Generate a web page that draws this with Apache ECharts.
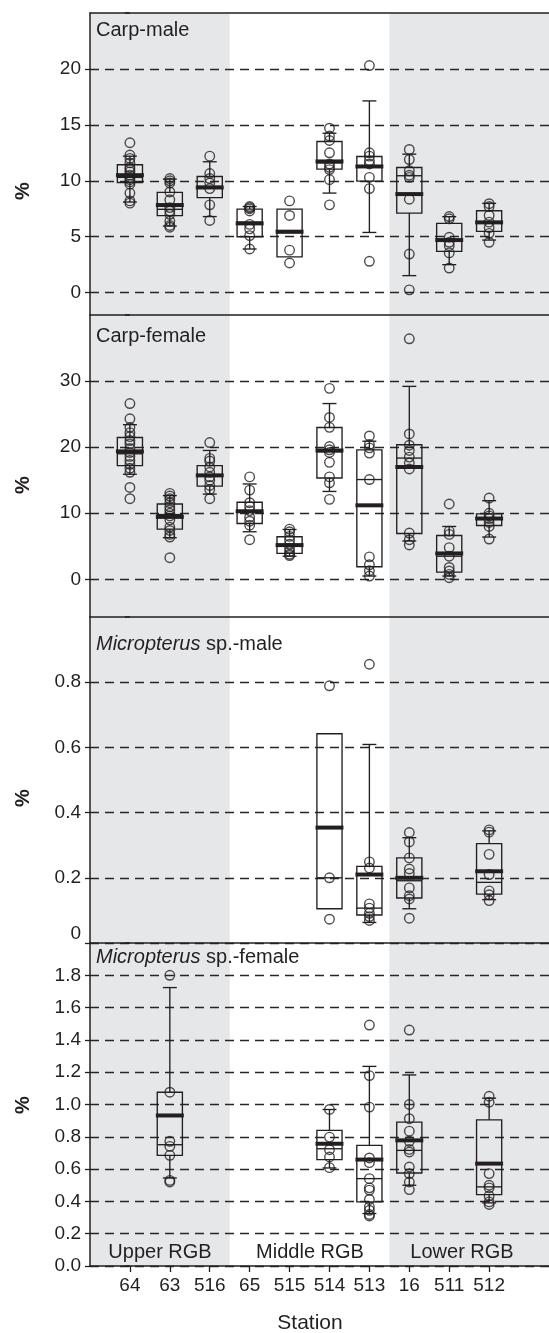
<!DOCTYPE html>
<html><head><meta charset="utf-8">
<script src="https://cdn.jsdelivr.net/npm/echarts@6/dist/echarts.min.js"></script>
<style>html,body{margin:0;padding:0;background:#fff}#c{width:549px;height:1333px}</style>
</head><body><div id="c"></div>
<script>
// ---------------- data ----------------
const stations = ['64', '63', '516', '65', '515', '514', '513', '16', '511', '512'];
const regionNames = ['Upper RGB', 'Middle RGB', 'Lower RGB'];
const shadedRanges = [[-1, 2.5], [6.5, 10.5]]; // shaded station ranges (Upper, Lower)

// box rows: [low whisker, Q1, median, Q3, high whisker, mean]; null = not shown
const carpMaleBox = [
  [8.1, 9.85, 10.3, 11.43, 12.2, 10.5],
  [5.95, 6.88, 7.45, 8.96, 10.15, 7.83],
  [6.8, 8.5, 9.5, 10.38, 11.7, 9.4],
  [3.9, 5.0, 6.3, 7.47, 7.7, 6.19],
  [null, 3.2, 5.35, 7.47, null, 5.45],
  [8.9, 11.04, 11.6, 13.51, 14.25, 11.73],
  [5.38, 9.97, 11.2, 12.17, 17.14, 11.28],
  [1.52, 7.11, 10.45, 11.19, 12.38, 8.81],
  [2.5, 3.69, 4.6, 6.19, 6.79, 4.7],
  [4.7, 5.48, 6.2, 7.32, 7.98, 6.28]
];
const carpMalePts = [
  [13.4, 12.3, 12.0, 11.6, 11.2, 11.0, 10.8, 10.5, 10.3, 10.1, 9.9, 9.7, 8.9, 8.2, 8.0],
  [10.2, 10.0, 9.8, 9.0, 8.3, 7.6, 7.3, 7.0, 6.4, 6.0, 5.85],
  [12.2, 10.65, 10.2, 9.8, 9.3, 7.85, 6.45],
  [7.7, 7.6, 7.5, 7.3, 6.1, 5.7, 5.1, 3.9],
  [8.2, 6.9, 3.8, 2.65],
  [14.7, 14.0, 13.6, 12.5, 11.5, 11.2, 11.0, 10.1, 7.85],
  [20.3, 12.5, 12.2, 11.8, 11.5, 10.3, 9.3, 2.8],
  [12.8, 11.9, 10.9, 10.5, 10.3, 8.35, 3.45, 0.25],
  [6.8, 6.6, 4.95, 4.5, 4.2, 3.55, 2.2],
  [7.95, 7.7, 6.9, 6.3, 5.8, 5.3, 4.5]
];

const carpFemaleBox = [
  [15.9, 17.2, 19.0, 21.46, 23.4, 19.36],
  [6.3, 7.6, 9.8, 11.4, 12.67, 9.45],
  [12.9, 14.1, 15.8, 17.2, 19.5, 15.73],
  [7.2, 8.45, 10.2, 11.66, 14.43, 10.3],
  [3.5, 3.92, 5.0, 6.44, 7.54, 5.18],
  [13.3, 15.34, 19.3, 22.97, 26.6, 19.5],
  [0.5, 1.9, 15.1, 19.6, 20.9, 11.2],
  [5.8, 6.94, 18.35, 20.36, 29.2, 17.0],
  [0.5, 1.1, 3.5, 6.64, 8.0, 3.92],
  [6.4, 8.14, 9.1, 9.9, 11.9, 9.2]
];
const carpFemalePts = [
  [26.6, 24.3, 23.0, 22.2, 21.6, 21.0, 20.5, 19.8, 19.2, 18.6, 18.0, 17.4, 16.8, 16.2, 13.9, 12.2],
  [13.0, 12.6, 12.2, 11.6, 11.0, 10.5, 10.0, 9.6, 9.0, 7.9, 7.4, 6.8, 6.4, 3.27],
  [20.7, 18.3, 17.9, 17.0, 16.2, 15.5, 15.0, 14.2, 13.6, 12.2],
  [15.5, 13.5, 11.6, 11.0, 10.4, 9.4, 8.8, 8.2, 6.0],
  [7.6, 7.2, 6.5, 5.9, 5.3, 4.7, 4.2, 3.8, 3.6],
  [28.9, 24.5, 23.0, 20.1, 19.6, 19.2, 17.7, 15.5, 14.6, 12.1],
  [21.7, 20.4, 19.9, 19.1, 15.1, 3.4, 2.2, 1.3, 0.5],
  [36.4, 22.0, 20.3, 19.5, 18.5, 17.6, 16.7, 7.0, 6.0, 5.2],
  [11.4, 7.3, 6.8, 4.8, 3.5, 1.8, 1.25, 0.75, 0.25],
  [12.3, 10.0, 9.6, 9.2, 8.6, 8.0, 6.1]
];

const micMaleBox = [
  null, null, null, null, null,
  [null, 0.105, 0.2, 0.642, null, 0.354],
  [0.063, 0.086, 0.107, 0.235, 0.609, 0.21],
  [0.105, 0.138, 0.191, 0.261, 0.323, 0.2],
  null,
  [0.133, 0.15, 0.186, 0.305, 0.344, 0.22]
];
const micMalePts = [
  [], [], [], [], [],
  [0.789, 0.2, 0.073],
  [0.855, 0.249, 0.23, 0.12, 0.107, 0.091, 0.081, 0.069],
  [0.339, 0.31, 0.261, 0.227, 0.213, 0.169, 0.145, 0.135, 0.076],
  [],
  [0.347, 0.34, 0.272, 0.21, 0.16, 0.148, 0.13]
];

const micFemaleBox = [
  null,
  [0.545, 0.685, 0.751, 1.076, 1.724, 0.932],
  null, null, null,
  [0.607, 0.659, 0.726, 0.84, 0.969, 0.757],
  [0.325, 0.397, 0.541, 0.747, 1.236, 0.659],
  [0.5, 0.576, 0.716, 0.891, 1.183, 0.778],
  null,
  [0.391, 0.442, 0.49, 0.905, 1.039, 0.634]
];
const micFemalePts = [
  [],
  [1.80, 1.076, 0.772, 0.741, 0.685, 0.53, 0.52],
  [], [], [],
  [0.969, 0.798, 0.72, 0.675, 0.609],
  [1.492, 1.179, 0.984, 0.669, 0.64, 0.541, 0.484, 0.47, 0.412, 0.366, 0.345, 0.319, 0.31],
  [1.461, 1.0, 0.912, 0.835, 0.772, 0.722, 0.706, 0.613, 0.572, 0.52, 0.473],
  [],
  [1.051, 1.014, 0.572, 0.5, 0.484, 0.434, 0.397, 0.381]
];

const carpMaleTicks = [0, 5, 10, 15, 20];
const carpFemaleTicks = [0, 10, 20, 30];
const micMaleTicks = [0, 0.2, 0.4, 0.6, 0.8];
const micFemaleTicks = [0, 0.2, 0.4, 0.6, 0.8, 1.0, 1.2, 1.4, 1.6, 1.8];

// ---------------- layout / style ----------------
const INK = '#231f20';
const FONT = '"Liberation Sans", Arial, sans-serif';
const panels = [
  { title: [{ t: 'Carp-male' }], box: carpMaleBox, pts: carpMalePts, min: -2, max: 25, ticks: carpMaleTicks, top: 13, height: 302, fmt: v => String(v) },
  { title: [{ t: 'Carp-female' }], box: carpFemaleBox, pts: carpFemalePts, min: -5.7, max: 40, ticks: carpFemaleTicks, top: 315, height: 302, fmt: v => String(v) },
  { title: [{ t: 'Micropterus', i: true }, { t: ' sp.-male' }], box: micMaleBox, pts: micMalePts, min: 0, max: 1.0, ticks: micMaleTicks, top: 617, height: 326, fmt: v => v === 0 ? '0' : v.toFixed(1), minBottom: true },
  { title: [{ t: 'Micropterus', i: true }, { t: ' sp.-female' }], box: micFemaleBox, pts: micFemalePts, min: 0, max: 2.0, ticks: micFemaleTicks, top: 943, height: 323, fmt: v => v.toFixed(1) }
];
const pctY = [191, 485, 798, 1105];
const titleY = [31, 337, 645, 958];

function renderShade(params, api) {
  const cs = params.coordSys;
  const x0 = Math.max(cs.x, api.coord([api.value(0), 0])[0]);
  const x1 = Math.min(cs.x + cs.width, api.coord([api.value(1), 0])[0]);
  return { type: 'rect', shape: { x: x0, y: cs.y, width: x1 - x0, height: cs.height }, style: { fill: '#e6e7e8' } };
}

function renderBox(params, api) {
  const x = api.value(0);
  const low = api.value(1), q1 = api.value(2), med = api.value(3), q3 = api.value(4), high = api.value(5), mean = api.value(6);
  const unit = api.size([1, 0])[0];
  const cx = api.coord([x, q1])[0];
  const Y = v => api.coord([x, v])[1];
  const bw = unit * 0.63, cw = unit * 0.35, mw = unit * 0.7;
  const ls = { stroke: INK, lineWidth: 1.35, fill: null };
  const ch = [];
  ch.push({ type: 'rect', shape: { x: cx - bw / 2, y: Y(q3), width: bw, height: Y(q1) - Y(q3) }, style: { stroke: INK, lineWidth: 1.35, fill: 'rgba(0,0,0,0)' } });
  ch.push({ type: 'line', shape: { x1: cx - bw / 2, y1: Y(med), x2: cx + bw / 2, y2: Y(med) }, style: ls });
  if (isFinite(high)) {
    ch.push({ type: 'line', shape: { x1: cx, y1: Y(q3), x2: cx, y2: Y(high) }, style: ls });
    ch.push({ type: 'line', shape: { x1: cx - cw / 2, y1: Y(high), x2: cx + cw / 2, y2: Y(high) }, style: ls });
  }
  if (isFinite(low)) {
    ch.push({ type: 'line', shape: { x1: cx, y1: Y(q1), x2: cx, y2: Y(low) }, style: ls });
    ch.push({ type: 'line', shape: { x1: cx - cw / 2, y1: Y(low), x2: cx + cw / 2, y2: Y(low) }, style: ls });
  }
  ch.push({ type: 'line', shape: { x1: cx - mw / 2, y1: Y(mean), x2: cx + mw / 2, y2: Y(mean) }, style: { stroke: INK, lineWidth: 4 } });
  return { type: 'group', children: ch };
}

const grid = [], xAxis = [], yAxis = [], series = [], graphic = [];
const idx = stations.map((s, k) => k);
panels.forEach((p, i) => {
  grid.push({ left: 90, right: 0, top: p.top, height: p.height });
  const last = i === panels.length - 1;
  xAxis.push({
    type: 'value', gridIndex: i, min: -1, max: 10.5, position: 'bottom', z: 3,
    axisLine: { show: true, onZero: false, lineStyle: { color: INK, width: 1.5 } },
    axisTick: { show: last, customValues: idx, length: 6, lineStyle: { color: INK, width: 1.3 } },
    axisLabel: { show: last, customValues: idx, formatter: v => stations[Math.round(v)], fontSize: 19, color: INK, fontFamily: FONT, margin: 10 },
    splitLine: { show: false }
  });
  // main value axis (labels, ticks, dashed grid lines)
  yAxis.push({
    type: 'value', gridIndex: i, min: p.min, max: p.max, z: 2,
    axisLine: { show: true, onZero: false, lineStyle: { color: INK, width: 1.5 } },
    axisTick: { show: true, customValues: p.ticks, length: 5, lineStyle: { color: INK, width: 1.3 } },
    axisLabel: { customValues: p.ticks, formatter: p.fmt, fontSize: 19, color: INK, fontFamily: FONT, margin: 9, verticalAlignMinLabel: p.minBottom ? 'bottom' : null },
    splitLine: { show: true, lineStyle: { color: '#262626', width: 1.4, type: [9, 6] } }
  });
  // companion axis: only the ticks at the panel borders (separator stubs)
  yAxis.push({
    type: 'value', gridIndex: i, min: p.min, max: p.max, position: 'left', z: 3,
    axisLine: { show: false }, axisLabel: { show: false }, splitLine: { show: false },
    axisTick: { show: true, customValues: [p.min, p.max], length: 5, lineStyle: { color: INK, width: 1.5 } }
  });
  const yi = yAxis.length - 2;
  series.push({
    type: 'custom', xAxisIndex: i, yAxisIndex: yi, renderItem: renderShade, data: shadedRanges,
    encode: { x: [0, 1] }, z: 1, silent: true, clip: true
  });
  const boxData = [];
  p.box.forEach((r, k) => { if (r) boxData.push([k].concat(r.map(v => v == null ? '-' : v))); });
  series.push({
    type: 'custom', xAxisIndex: i, yAxisIndex: yi, renderItem: renderBox, data: boxData,
    encode: { x: 0, y: [1, 2, 3, 4, 5, 6] }, z: 4, silent: true
  });
  const ptData = [];
  p.pts.forEach((arr, k) => arr.forEach(v => ptData.push([k, v])));
  series.push({
    type: 'scatter', xAxisIndex: i, yAxisIndex: yi, data: ptData, symbol: 'circle', symbolSize: 9.5, z: 5, silent: true,
    itemStyle: { color: 'rgba(0,0,0,0)', borderColor: INK, borderWidth: 1.4 }
  });
  const rich = { n: { fontSize: 20, fontFamily: FONT, color: INK }, it: { fontSize: 20, fontFamily: FONT, color: INK, fontStyle: 'italic' } };
  graphic.push({
    type: 'text', left: 96, top: titleY[i] - 11, z: 10,
    style: { text: p.title.map(s => '{' + (s.i ? 'it' : 'n') + '|' + s.t + '}').join(''), rich: rich, fill: INK }
  });
  graphic.push({
    type: 'text', x: 23, y: pctY[i], rotation: Math.PI / 2, z: 10,
    style: { text: '%', fontSize: 20, fontWeight: 'bold', fontFamily: FONT, fill: INK, align: 'center', verticalAlign: 'middle' }
  });
});
// top border of first panel
xAxis.push({
  type: 'value', gridIndex: 0, min: -1, max: 10.5, position: 'top', z: 3,
  axisLine: { show: true, onZero: false, lineStyle: { color: INK, width: 1.5 } },
  axisTick: { show: false }, axisLabel: { show: false }, splitLine: { show: false }
});
const regionX = [160, 310, 462];
regionNames.forEach((r, k) => graphic.push({
  type: 'text', x: regionX[k], y: 1252, z: 10,
  style: { text: r, fontSize: 20, fontFamily: FONT, fill: INK, align: 'center', verticalAlign: 'middle' }
}));
graphic.push({
  type: 'text', x: 310, y: 1323, z: 10,
  style: { text: 'Station', fontSize: 21, fontFamily: FONT, fill: INK, align: 'center', verticalAlign: 'middle' }
});

const chart = echarts.init(document.getElementById('c'), null, { renderer: 'canvas' });
chart.setOption({ animation: false, backgroundColor: '#fff', grid, xAxis, yAxis, series, graphic });
</script></body></html>
